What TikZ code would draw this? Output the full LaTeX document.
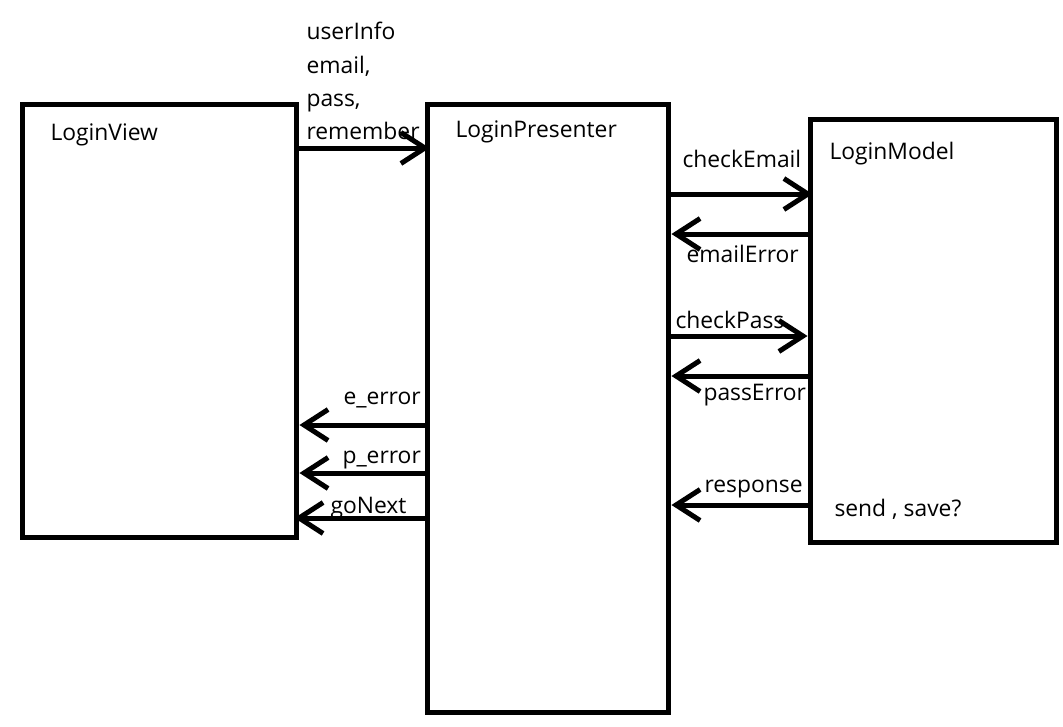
\documentclass[tikz,border=0pt]{standalone}
\usepackage{fontspec}
\setmainfont{Open Sans}
\usetikzlibrary{arrows.meta}
\begin{document}
\begin{tikzpicture}[x=0.02cm, y=-0.02cm, line width=0.1cm,
    font=\fontsize{13}{18.8}\selectfont,
    box/.style = {draw, inner sep=0pt},
    lbl/.style = {anchor=base west, inner sep=0pt},
    arr/.style = {-{Straight Barb[length=0.48cm, width=0.62cm]}}]
    \useasboundingbox (0,0) rectangle (1063,727);
    \node[box, minimum width=5.5cm, minimum height=8.68cm] (view) at (159.5,321) {};
    \node[box, minimum width=4.84cm, minimum height=12.18cm] (pres) at (548,408.5) {};
    \node[box, minimum width=4.94cm, minimum height=8.48cm] (model) at (933.5,331) {};
    \node[lbl] (viewname) at (48,140) {LoginView};
    \node[lbl] (presname) at (453,137) {LoginPresenter};
    \node[lbl] (modelname) at (827,159) {LoginModel};
    \node[lbl] (send) at (832,516) {send , save?};
    % view -> presenter
    \node[anchor=north west, inner sep=0pt, align=left] (info) at (304,20) {userInfo\\email,\\pass,\\remember};
    \draw[arr] (view.east |- 0,148) -- ([xshift=0.1cm]pres.west |- 0,148);
    % presenter <-> model
    \draw[arr] (pres.east |- 0,194) -- ([xshift=0.1cm]model.west |- 0,194);
    \node[lbl] (chkemail) at (680,167) {checkEmail};
    \draw[arr] (model.west |- 0,234) -- (pres.east |- 0,234);
    \node[lbl] (emailerr) at (684,262) {emailError};
    \draw[arr] (pres.east |- 0,336) -- (model.west |- 0,336);
    \node[lbl] (chkpass) at (673,328) {checkPass};
    \draw[arr] (model.west |- 0,376) -- (pres.east |- 0,376);
    \node[lbl] (passerr) at (701,400) {passError};
    \draw[arr] (model.west |- 0,505) -- (pres.east |- 0,505);
    \node[lbl] (resp) at (702,492) {response};
    % presenter -> view
    \draw[arr] (pres.west |- 0,425) -- (view.east |- 0,425);
    \node[lbl] (eerr) at (341,404) {e\_error};
    \draw[arr] (pres.west |- 0,473) -- (view.east |- 0,473);
    \node[lbl] (perr) at (340,463) {p\_error};
    \draw[arr] (pres.west |- 0,518) -- ([xshift=-0.1cm]view.east |- 0,518);
    \node[lbl] (gonext) at (328,513) {goNext};
\end{tikzpicture}
\end{document}
